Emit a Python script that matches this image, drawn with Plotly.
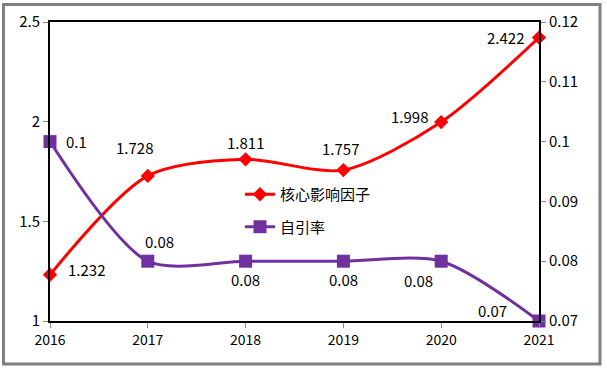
import plotly.graph_objects as go

years = ["2016", "2017", "2018", "2019", "2020", "2021"]
impact = [1.232, 1.728, 1.811, 1.757, 1.998, 2.422]
self_cite = [0.1, 0.08, 0.08, 0.08, 0.08, 0.07]
impact_labels = ["1.232", "1.728", "1.811", "1.757", "1.998", "2.422"]
self_labels = ["0.1", "0.08", "0.08", "0.08", "0.08", "0.07"]
left_ticks = [1, 1.5, 2, 2.5]
left_ticktext = ["1", "1.5", "2", "2.5"]
right_ticks = [0.07, 0.08, 0.09, 0.1, 0.11, 0.12]
right_ticktext = ["0.07", "0.08", "0.09", "0.1", "0.11", "0.12"]

# label offsets in pixels, (right, down) (style)
impact_shift = [(36, -5), (-13, -28), (0, -17), (-3, -22), (-32, -6), (-34, 0)]
self_shift = [(26, 0), (12, -20), (0, 18), (0, 18), (-23, 19), (-47, -11)]

RED = "#FF0000"
PURPLE = "#7030A0"
FONT = "Noto Sans CJK SC"

fig = go.Figure()
fig.add_trace(go.Scatter(
    x=years, y=impact, name="核心影响因子", mode="lines+markers",
    line=dict(color=RED, width=3, shape="spline", smoothing=0.8),
    marker=dict(symbol="diamond", size=11, color=RED),
    legendgroup="a", cliponaxis=False))
fig.add_trace(go.Scatter(
    x=years, y=self_cite, name="自引率", mode="lines+markers", yaxis="y2",
    line=dict(color=PURPLE, width=3, shape="spline", smoothing=0.8),
    marker=dict(symbol="square", size=13, color=PURPLE),
    legendgroup="b", cliponaxis=False))

ann = []
for i, (y, t, (dx, dy)) in enumerate(zip(impact, impact_labels, impact_shift)):
    ann.append(dict(x=i, y=y, xref="x", yref="y", text=t, showarrow=False,
                    xshift=dx, yshift=-dy, font=dict(size=15, color="black")))
for i, (y, t, (dx, dy)) in enumerate(zip(self_cite, self_labels, self_shift)):
    ann.append(dict(x=i, y=y, xref="x", yref="y2", text=t, showarrow=False,
                    xshift=dx, yshift=-dy, font=dict(size=15, color="black")))

L, R, T, B = 50, 539, 22, 321
W, H = R - L, B - T
def px(p):
    return (p - L) / W
def py(p):
    return (B - p) / H

fig.update_layout(
    width=607, height=368,
    margin=dict(l=L, r=607 - R, t=T, b=368 - B, autoexpand=False),
    paper_bgcolor="white", plot_bgcolor="white",
    font=dict(family=FONT, size=14, color="black"),
    showlegend=True,
    legend=dict(x=px(240), y=py(178), xanchor="left", yanchor="top",
                bgcolor="rgba(0,0,0,0)", traceorder="grouped", tracegroupgap=10,
                font=dict(size=15), itemwidth=30),
    xaxis=dict(type="category", range=[0, 5], showgrid=False, showline=True,
               linecolor="black", linewidth=2, mirror=True,
               ticks="outside", tickcolor="#888888", ticklen=5,
               tickfont=dict(size=14)),
    yaxis=dict(range=[1, 2.5], tickvals=left_ticks, ticktext=left_ticktext,
               showgrid=False, zeroline=False, showline=True, linecolor="black",
               linewidth=2, mirror=True, ticks="outside", tickcolor="#888888",
               ticklen=5, tickfont=dict(size=15)),
    yaxis2=dict(range=[0.07, 0.12], tickvals=right_ticks, ticktext=right_ticktext,
                overlaying="y", side="right", showgrid=False, zeroline=False,
                showline=True, linecolor="black", linewidth=2,
                ticks="outside", tickcolor="#888888", ticklen=5,
                tickfont=dict(size=15)),
    annotations=ann,
    shapes=[dict(type="rect", xref="paper", yref="paper",
                 x0=px(3.5), x1=px(600), y0=py(4.5), y1=py(364),
                 line=dict(color="#808080", width=3), layer="below")],
)

fig.write_html("out.html", config={"displayModeBar": False},
               post_script="document.body.style.margin='0';document.body.style.overflow='hidden';")
